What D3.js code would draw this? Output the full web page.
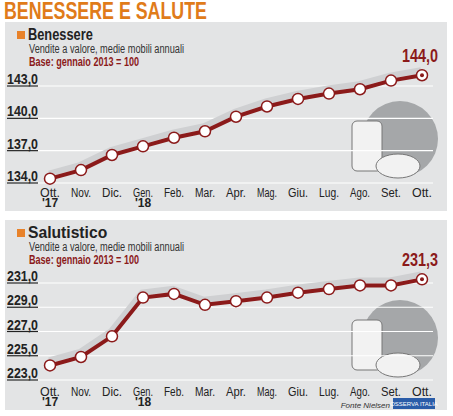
<!DOCTYPE html><html><head><meta charset="utf-8">
<script src="https://cdn.jsdelivr.net/npm/d3@7"></script>
<style>body{margin:0;background:#fff}svg{display:block}text{font-family:"Liberation Sans Narrow","Liberation Sans",sans-serif}</style></head><body>
<svg id="c" width="453" height="416"></svg>
<script>
const months=["Ott.","Nov.","Dic.","Gen.","Feb.","Mar.","Apr.","Mag.","Giu.","Lug.","Ago.","Set.","Ott."];
const years=["'17","","","'18","","","","","","","","",""];
const benessere=[134.4,135.2,136.6,137.4,138.2,138.8,140.15,141.1,141.8,142.3,142.7,143.5,144.0];
const salutistico=[224.2,224.9,226.6,229.8,230.1,229.2,229.5,229.8,230.2,230.5,230.8,230.8,231.3];
const benTicks=[134,137,140,143];
const salTicks=[223,225,227,229,231];
const svg=d3.select("#c");
const fmt=v=>d3.format(".1f")(v).replace(".",",");
function nt(sel,len){return sel.attr("textLength",len).attr("lengthAdjust","spacingAndGlyphs");}
nt(svg.append("text").attr("x",4).attr("y",19).attr("fill","#e07b1a").attr("font-size",23).attr("font-weight","bold").text("BENESSERE E SALUTE"),203);

function panel(top,bottom,name,data,ticks,dom,yRange){
  const g=svg.append("g");
  g.append("rect").attr("x",5).attr("y",top).attr("width",442).attr("height",bottom-top).attr("fill","#e3e4e5");
  g.append("rect").attr("x",17).attr("y",top+9).attr("width",8).attr("height",8).attr("fill","#e8822a");
  nt(g.append("text").attr("x",28).attr("y",top+18).attr("font-size",16).attr("font-weight","bold").attr("fill","#222").text(name),name.length*7.2);
  nt(g.append("text").attr("x",29).attr("y",top+31).attr("font-size",12).attr("fill","#333").text("Vendite a valore, medie mobili annuali"),155);
  nt(g.append("text").attr("x",29).attr("y",top+44).attr("font-size",12).attr("font-weight","bold").attr("fill","#8b1a1a").text("Base: gennaio 2013 = 100"),110);
  const x=d3.scalePoint().domain(d3.range(months.length)).range([50,422]);
  const y=d3.scaleLinear().domain(dom).range(yRange);
  g.append("circle").attr("cx",400).attr("cy",bottom-72).attr("r",38).attr("fill","#a5a7a9");
  g.append("rect").attr("x",352).attr("y",bottom-90).attr("width",30).attr("height",50).attr("rx",5).attr("fill","#f2f2f2").attr("stroke","#777");
  g.append("ellipse").attr("cx",398).attr("cy",bottom-45).attr("rx",22).attr("ry",12).attr("fill","#f2f2f2").attr("stroke","#777");
  g.selectAll(".gl").data(ticks).join("line").attr("x1",7).attr("x2",433).attr("y1",d=>y(d)).attr("y2",d=>y(d)).attr("stroke","#fff").attr("stroke-width",1.2);
  g.selectAll(".gu").data(ticks).join("line").attr("x1",7).attr("x2",38).attr("y1",d=>y(d)).attr("y2",d=>y(d)).attr("stroke","#222").attr("stroke-width",1.2);
  nt(g.selectAll(".tl").data(ticks).join("text").attr("x",7).attr("y",d=>y(d)-2).attr("font-size",14).attr("font-weight","bold").attr("fill","#222").text(fmt),31);
  const line=d3.line().x((d,i)=>x(i)).y(d=>y(d));
  g.append("path").datum(data).attr("d",line).attr("transform","translate(-1,-5)").attr("fill","none").attr("stroke","#cfd0d2").attr("stroke-width",6);
  g.append("path").datum(data).attr("d",line).attr("fill","none").attr("stroke","#8b1a1a").attr("stroke-width",4);
  g.selectAll(".pt").data(data).join("circle").attr("cx",(d,i)=>x(i)).attr("cy",d=>y(d)).attr("r",5.5).attr("fill","#fff").attr("stroke","#8b1a1a").attr("stroke-width",1.5);
  const li=data.length-1;
  g.append("circle").attr("cx",x(li)).attr("cy",y(data[li])).attr("r",2).attr("fill","#8b1a1a");
  nt(g.append("text").attr("x",x(li)+16).attr("y",y(data[li])-13).attr("text-anchor","end").attr("font-size",19).attr("font-weight","bold").attr("fill","#8b1a1a").text(fmt(data[li])),36);
  g.selectAll(".xm").data(months).join("text").attr("x",(d,i)=>x(i)).attr("y",bottom-14).attr("text-anchor","middle").attr("font-size",12).attr("fill","#222").attr("textLength",d=>d.length*5).attr("lengthAdjust","spacingAndGlyphs").text(d=>d);
  g.selectAll(".xy").data(years).join("text").attr("x",(d,i)=>x(i)).attr("y",bottom-4).attr("text-anchor","middle").attr("font-size",12).attr("font-weight","bold").attr("fill","#222").text(d=>d);
  return g;
}
panel(22,211,"Benessere",benessere,benTicks,[134,143],[183,86]);
const g2=panel(220,410,"Salutistico",salutistico,salTicks,[223,231],[380,283]);
g2.append("text").attr("x",390).attr("y",408).attr("text-anchor","end").attr("font-size",8).attr("font-style","italic").attr("fill","#333").text("Fonte Nielsen");
g2.append("rect").attr("x",393).attr("y",398).attr("width",42).attr("height",11).attr("fill","#2a5ca8");
g2.append("text").attr("x",414).attr("y",406).attr("text-anchor","middle").attr("font-size",6).attr("fill","#fff").text("OSSERVA ITALIA");
</script></body></html>
